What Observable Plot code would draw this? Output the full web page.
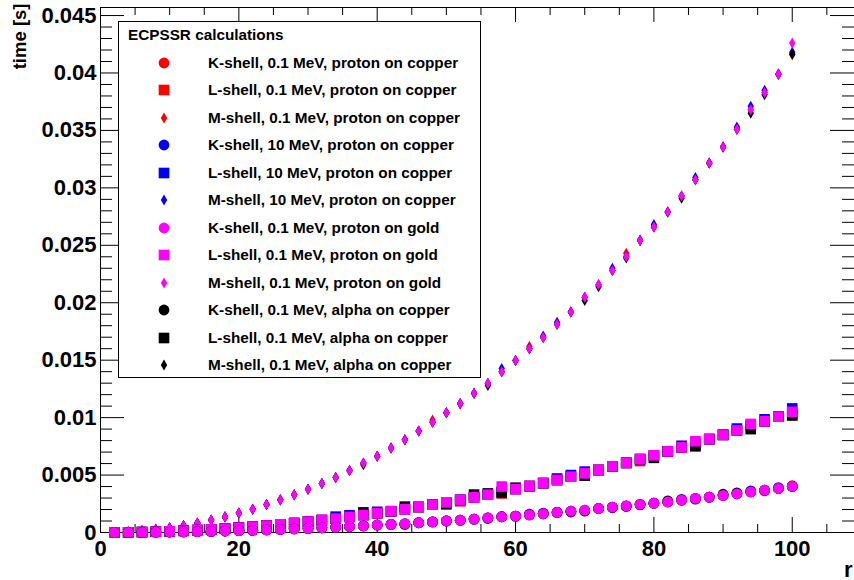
<!DOCTYPE html>
<html><head><meta charset="utf-8">
<script src="https://cdn.jsdelivr.net/npm/d3@7"></script>
<script src="https://cdn.jsdelivr.net/npm/@observablehq/plot@0.6"></script>
<style>
body{margin:0;background:#fff;}
#wrap{position:relative;width:854px;height:580px;overflow:hidden;font-family:"Liberation Sans",Arial,Helvetica,sans-serif;font-weight:bold;}
#legend{position:absolute;left:118px;top:21px;width:363px;height:357px;border:1px solid #000;background:#fff;box-sizing:border-box;font-size:15.3px;}
#legend .title{position:absolute;left:9px;top:3px;height:20px;line-height:20px;white-space:nowrap;}
#legend .row{position:absolute;left:0;height:20px;line-height:20px;white-space:nowrap;}
#legend .row svg{position:absolute;left:35px;top:0;}
#legend .row span{position:absolute;left:89px;top:0;}
</style>
</head><body>
<div id="wrap"><div id="chart"></div><div id="legend"></div></div>
<script>
const rValues = [2,4,6,8,10,12,14,16,18,20,
  22,24,26,28,30,32,34,36,38,40,
  42,44,46,48,50,52,54,56,58,60,
  62,64,66,68,70,72,74,76,78,80,
  82,84,86,88,90,92,94,96,98,100];

// K-shell
const kProtonCu01 = [0.000002,0.000006,0.000014,0.000026,0.00004,0.000058,0.000078,0.0001,0.00013,0.00016,
  0.00019,0.00023,0.00027,0.00031,0.00036,0.00041,0.00046,0.00052,0.00058,0.00065,
  0.00071,0.00074,0.00085,0.00092,0.001,0.00107,0.00117,0.00128,0.00137,0.00142,
  0.00154,0.00163,0.00178,0.00185,0.00188,0.00209,0.00221,0.00232,0.00245,0.00255,
  0.00266,0.00282,0.00297,0.00308,0.00323,0.00337,0.00354,0.00362,0.00383,0.00407];
const kProtonCu10 = [0.000002,0.000006,0.000014,0.000026,0.00004,0.000058,0.000078,0.0001,0.00013,0.00016,
  0.00019,0.00023,0.00027,0.00031,0.00036,0.00041,0.00046,0.00052,0.00058,0.00065,
  0.00071,0.00077,0.00085,0.00092,0.001,0.00107,0.00117,0.00122,0.00137,0.00142,
  0.0016,0.00169,0.00174,0.00185,0.00194,0.00209,0.00215,0.00232,0.0024,0.00255,
  0.00266,0.00289,0.00297,0.00308,0.00323,0.00337,0.00362,0.00368,0.00391,0.00401];
const kProtonAu01 = [0.000002,0.000006,0.000014,0.000026,0.00004,0.000058,0.000078,0.0001,0.00013,0.00016,
  0.00019,0.00023,0.00027,0.00031,0.00036,0.00041,0.00046,0.00052,0.00058,0.00065,
  0.00071,0.00077,0.00085,0.00092,0.001,0.00107,0.00117,0.00128,0.00137,0.00142,
  0.00154,0.00163,0.00174,0.00185,0.00194,0.00209,0.00221,0.00232,0.00245,0.00255,
  0.00266,0.00282,0.00297,0.00308,0.00323,0.00337,0.00354,0.00368,0.00383,0.00401];
const kAlphaCu01 = [0.000002,0.000006,0.000014,0.000026,0.00004,0.000058,0.000078,0.0001,0.00013,0.00016,
  0.00019,0.00023,0.00027,0.00031,0.00036,0.00041,0.00046,0.00052,0.00058,0.00065,
  0.00071,0.0007,0.00085,0.00092,0.001,0.00107,0.00117,0.00128,0.00137,0.00142,
  0.00154,0.00163,0.00174,0.00178,0.00187,0.00209,0.00221,0.00226,0.00245,0.00255,
  0.00275,0.00282,0.0029,0.00308,0.00333,0.00345,0.00354,0.00368,0.00383,0.00401];

// L-shell
const lProtonCu01 = [0.000004,0.000017,0.000038,0.000067,0.000105,0.00015,0.00021,0.00027,0.00034,0.00042,
  0.00051,0.0006,0.00071,0.00082,0.00095,0.00108,0.00121,0.00136,0.00152,0.00168,
  0.00185,0.00203,0.00222,0.00242,0.00263,0.00272,0.00306,0.00329,0.0034,0.00378,
  0.00404,0.0043,0.00457,0.00486,0.00515,0.00544,0.00575,0.00606,0.00622,0.00672,
  0.00706,0.00741,0.0076,0.00813,0.0085,0.00889,0.00928,0.00968,0.01008,0.0102];
const lProtonCu10 = [0.000004,0.000017,0.000038,0.000067,0.000105,0.00015,0.00021,0.00027,0.00034,0.00042,
  0.00051,0.0006,0.00071,0.00082,0.00095,0.00108,0.00138,0.0015,0.00152,0.0018,
  0.00185,0.00203,0.00222,0.00242,0.00263,0.00284,0.00306,0.00329,0.00353,0.00378,
  0.00404,0.0043,0.0047,0.005,0.0053,0.00544,0.00575,0.00606,0.00639,0.00672,
  0.00706,0.00755,0.00777,0.00813,0.0085,0.00905,0.00928,0.00985,0.01008,0.0108];
const lProtonAu01 = [0.000004,0.000017,0.000038,0.000067,0.000105,0.00015,0.00021,0.00027,0.00034,0.00042,
  0.00051,0.0006,0.00071,0.00082,0.00095,0.00108,0.00121,0.00136,0.00152,0.00168,
  0.00185,0.00203,0.00222,0.00242,0.00263,0.00284,0.00306,0.00329,0.004,0.00378,
  0.00404,0.0043,0.00457,0.00486,0.00515,0.00544,0.00575,0.00606,0.00639,0.00672,
  0.00706,0.00741,0.00795,0.00813,0.0085,0.00889,0.00945,0.00968,0.01008,0.0105];
const lAlphaCu01 = [0.000004,0.000017,0.000038,0.000067,0.000105,0.00015,0.00021,0.00027,0.00034,0.00042,
  0.00051,0.0006,0.00071,0.00082,0.00095,0.00108,0.00121,0.00136,0.00175,0.00168,
  0.00185,0.00225,0.00222,0.00242,0.00245,0.00284,0.0033,0.0034,0.0035,0.0039,
  0.00404,0.0043,0.00457,0.00486,0.00495,0.00544,0.00575,0.00606,0.00639,0.0065,
  0.00706,0.00741,0.0075,0.00813,0.0085,0.00889,0.009,0.00968,0.01008,0.0102];

// M-shell
const mProtonCu01 = [0.000017,0.000067,0.00015,0.00027,0.00042,0.0006,0.00082,0.00108,0.00136,0.0017,
  0.00203,0.00243,0.00284,0.00328,0.00376,0.00426,0.00478,0.0054,0.00604,0.00664,
  0.00736,0.00808,0.00884,0.0098,0.01042,0.01122,0.01212,0.01298,0.014,0.01498,
  0.0162,0.01698,0.01812,0.01919,0.02047,0.02157,0.0228,0.0243,0.02543,0.0266,
  0.0279,0.0293,0.0307,0.03217,0.03355,0.0351,0.0368,0.0383,0.0399,0.0416];
const mProtonCu10 = [0.000017,0.000067,0.00015,0.00027,0.00042,0.0006,0.00082,0.00108,0.00136,0.0017,
  0.00203,0.00243,0.00284,0.00328,0.00376,0.00426,0.00478,0.0054,0.00604,0.00664,
  0.00736,0.00808,0.00884,0.0096,0.01042,0.01122,0.01212,0.01298,0.01428,0.01498,
  0.016,0.0171,0.0183,0.01919,0.02047,0.02157,0.023,0.024,0.02543,0.0268,
  0.0279,0.0293,0.0309,0.03217,0.03355,0.0353,0.0371,0.0385,0.0399,0.0418];
const mProtonAu01 = [0.000017,0.000067,0.00015,0.00027,0.00042,0.0006,0.00082,0.00108,0.00136,0.0017,
  0.00203,0.00243,0.00284,0.00328,0.00376,0.00426,0.00478,0.0054,0.00604,0.00664,
  0.00736,0.00808,0.00884,0.0096,0.01042,0.01122,0.01212,0.01298,0.014,0.01498,
  0.016,0.01698,0.01812,0.01919,0.02047,0.02157,0.0228,0.024,0.02543,0.0266,
  0.0279,0.0293,0.0307,0.03217,0.03355,0.0351,0.0368,0.0383,0.0399,0.0426];
const mAlphaCu01 = [0.000017,0.000067,0.00015,0.00027,0.00042,0.0006,0.00082,0.00108,0.00136,0.0017,
  0.00203,0.00243,0.00284,0.00328,0.00376,0.00426,0.00478,0.0054,0.0059,0.00664,
  0.00736,0.00808,0.00884,0.0096,0.01042,0.01122,0.01212,0.0128,0.014,0.01498,
  0.016,0.01698,0.01812,0.01919,0.0202,0.0214,0.0228,0.0239,0.02543,0.0266,
  0.0279,0.0291,0.0307,0.03217,0.03355,0.0351,0.0365,0.0381,0.0399,0.04163];

const legendTitle = "ECPSSR calculations";
const seriesLabels = [
  "K-shell, 0.1 MeV, proton on copper",
  "L-shell, 0.1 MeV, proton on copper",
  "M-shell, 0.1 MeV, proton on copper",
  "K-shell, 10 MeV, proton on copper",
  "L-shell, 10 MeV, proton on copper",
  "M-shell, 10 MeV, proton on copper",
  "K-shell, 0.1 MeV, proton on gold",
  "L-shell, 0.1 MeV, proton on gold",
  "M-shell, 0.1 MeV, proton on gold",
  "K-shell, 0.1 MeV, alpha on copper",
  "L-shell, 0.1 MeV, alpha on copper",
  "M-shell, 0.1 MeV, alpha on copper"
];
const seriesShells = ["K","L","M","K","L","M","K","L","M","K","L","M"];
const seriesColors = ["#ff0000","#ff0000","#ff0000","#0000ff","#0000ff","#0000ff","#ff00ff","#ff00ff","#ff00ff","#000000","#000000","#000000"];
const seriesValues = [kProtonCu01,lProtonCu01,mProtonCu01,kProtonCu10,lProtonCu10,mProtonCu10,kProtonAu01,lProtonAu01,mProtonAu01,kAlphaCu01,lAlphaCu01,mAlphaCu01];

const xMajorTicks = [0,20,40,60,80,100];
const xTickLabels = ["0","20","40","60","80","100"];
const xMinorTicks = [5,10,15,25,30,35,45,50,55,65,70,75,85,90,95,105];
const yMajorTicks = [0,0.005,0.01,0.015,0.02,0.025,0.03,0.035,0.04,0.045];
const yTickLabels = ["0","0.005","0.01","0.015","0.02","0.025","0.03","0.035","0.04","0.045"];
const yMinorTicks = [0.001,0.002,0.003,0.004,0.006,0.007,0.008,0.009,0.011,0.012,0.013,0.014,
  0.016,0.017,0.018,0.019,0.021,0.022,0.023,0.024,0.026,0.027,0.028,0.029,
  0.031,0.032,0.033,0.034,0.036,0.037,0.038,0.039,0.041,0.042,0.043,0.044];
const xTitle = "r";
const yTitle = "time [s]";
const xDomain = [0, 109];
const yDomain = [0, 0.0457];

const symbolFor = {K: d3.symbolCircle, L: d3.symbolSquare, M: d3.symbolDiamond};
const radiusFor = {K: 5.4, L: 6, M: 3.35};

const W = 854, H = 580, ML = 100, MR = 0, MT = 7, MB = 48;
const plotW = W - ML - MR, plotH = H - MT - MB;

// draw order: diamonds, squares, circles; within: red, blue, black, magenta
const colorOrder = [0, 1, 3, 2];
const dotMarks = [];
for (const shell of ["M","L","K"]) {
  for (const g of colorOrder) {
    const i = g * 3 + ["K","L","M"].indexOf(shell);
    const rows = rValues.map((r, j) => ({r, t: seriesValues[i][j]}));
    dotMarks.push(Plot.dot(rows, {x: "r", y: "t", fill: seriesColors[i], stroke: null,
      symbol: symbolFor[seriesShells[i]], r: radiusFor[seriesShells[i]]}));
  }
}

const font = "Liberation Sans, Arial, Helvetica, sans-serif";
const chart = Plot.plot({
  width: W, height: H,
  marginLeft: ML, marginRight: MR, marginTop: MT, marginBottom: MB,
  x: {domain: xDomain, axis: null},
  y: {domain: yDomain, axis: null},
  style: {fontFamily: font, fontWeight: "bold", background: "white", color: "black", overflow: "visible"},
  marks: [
    Plot.ruleX([xDomain[0]], {stroke: "black", strokeWidth: 1}),
    Plot.ruleY([yDomain[0]], {stroke: "black", strokeWidth: 1}),
    Plot.ruleY([yDomain[1]], {stroke: "black", strokeWidth: 1}),
    Plot.tickX(xMajorTicks, {x: d => d, insetTop: plotH - 15, stroke: "black"}),
    Plot.tickX(xMinorTicks, {x: d => d, insetTop: plotH - 8, stroke: "black"}),
    Plot.tickX(xMajorTicks, {x: d => d, insetBottom: plotH - 15, stroke: "black"}),
    Plot.tickX(xMinorTicks, {x: d => d, insetBottom: plotH - 8, stroke: "black"}),
    Plot.tickY(yMajorTicks, {y: d => d, insetRight: plotW - 24, stroke: "black"}),
    Plot.tickY(yMinorTicks, {y: d => d, insetRight: plotW - 12, stroke: "black"}),
    Plot.tickY(yMajorTicks, {y: d => d, insetLeft: plotW - 24, stroke: "black"}),
    Plot.tickY(yMinorTicks, {y: d => d, insetLeft: plotW - 12, stroke: "black"}),
    Plot.text(yMajorTicks, {y: d => d, text: (d, i) => yTickLabels[i], frameAnchor: "left",
      textAnchor: "end", dx: -4, fontSize: 22, fontWeight: "bold", fill: "black"}),
    Plot.text(xMajorTicks, {x: d => d, text: (d, i) => xTickLabels[i], frameAnchor: "bottom",
      lineAnchor: "top", dy: 8, fontSize: 22, fontWeight: "bold", fill: "black"}),
    Plot.text([yTitle], {frameAnchor: "top-left", text: d => d, rotate: -90, textAnchor: "end",
      lineAnchor: "middle", dx: -80, dy: -4, fontSize: 18.5, fontWeight: "bold", fill: "black"}),
    Plot.text([xTitle], {frameAnchor: "bottom-right", text: d => d, textAnchor: "end",
      lineAnchor: "bottom", dx: -2, dy: 44, fontSize: 22, fontWeight: "bold", fill: "black"}),
    ...dotMarks
  ]
});
document.getElementById("chart").appendChild(chart);

// legend
const legend = document.getElementById("legend");
const t = document.createElement("div");
t.className = "title";
t.textContent = legendTitle;
legend.appendChild(t);
seriesLabels.forEach((label, i) => {
  const row = document.createElement("div");
  row.className = "row";
  row.style.top = (40.7 + 27.5 * i - 10) + "px";
  const shell = seriesShells[i];
  const rr = radiusFor[shell];
  const path = d3.symbol(symbolFor[shell], Math.PI * rr * rr)();
  row.innerHTML = `<svg width="20" height="20" viewBox="-10 -10 20 20"><path d="${path}" fill="${seriesColors[i]}"></path></svg>`;
  const s = document.createElement("span");
  s.textContent = label;
  row.appendChild(s);
  legend.appendChild(row);
});
</script>
</body></html>
